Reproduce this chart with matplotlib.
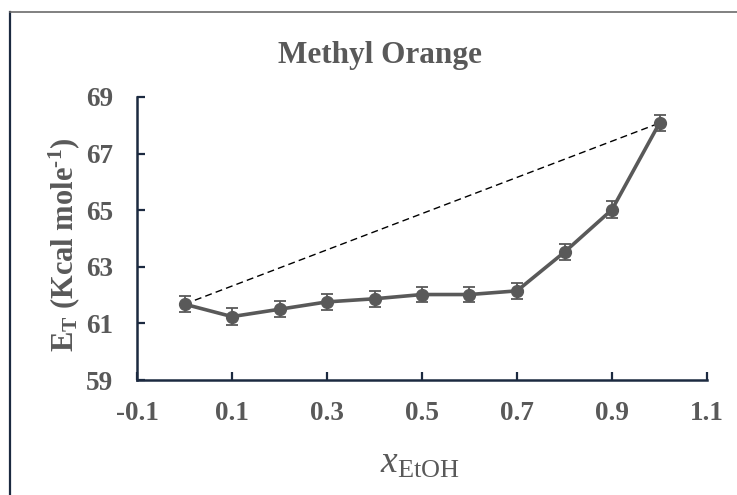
import matplotlib
matplotlib.use('Agg')
import matplotlib.pyplot as plt
from matplotlib.lines import Line2D
import numpy as np

# data
x_etoh = [0.0, 0.1, 0.2, 0.3, 0.4, 0.5, 0.6, 0.7, 0.8, 0.9, 1.0]
e_t = [61.68, 61.24, 61.50, 61.76, 61.87, 62.02, 62.02, 62.15, 63.52, 65.02, 68.08]
err = [0.28, 0.30, 0.28, 0.29, 0.28, 0.28, 0.28, 0.29, 0.29, 0.30, 0.28]
xticks = [-0.1, 0.1, 0.3, 0.5, 0.7, 0.9, 1.1]
yticks = [59, 61, 63, 65, 67, 69]

plt.rcParams['font.family'] = ['Liberation Serif', 'DejaVu Serif']
plt.rcParams['mathtext.fontset'] = 'custom'
plt.rcParams['mathtext.rm'] = 'Liberation Serif'
plt.rcParams['mathtext.it'] = 'Liberation Serif:italic'
plt.rcParams['mathtext.bf'] = 'Liberation Serif:bold'

grey = '#595959'
navy = '#1c2a40'

fig = plt.figure(figsize=(7.37, 4.95), dpi=100)
ax = fig.add_axes([137/737, 1 - 380/495, 570/737, 283/495])

# ideal-mixing dashed line between the pure-solvent ends
ax.plot([x_etoh[0], x_etoh[-1]], [e_t[0], e_t[-1]], color='black', lw=1.0,
        ls=(0, (5, 3)), zorder=2)
ax.errorbar(x_etoh, e_t, yerr=err, color=grey, lw=2.6, marker='o', ms=8.5,
            ecolor=grey, elinewidth=1.3, capsize=4.5, capthick=1.3, zorder=3)

ax.set_xlim(-0.1, 1.1)
ax.set_ylim(59, 69)
ax.set_xticks(xticks)
ax.set_yticks(yticks)
ax.set_xticklabels(['%.1f' % v for v in xticks])
ax.tick_params(direction='in', length=6, width=1.6, color=navy,
               labelsize=19.5, labelcolor=grey)
ax.tick_params(axis='y', pad=17)
ax.tick_params(axis='x', pad=15)
for lab in ax.get_xticklabels() + ax.get_yticklabels():
    lab.set_fontweight('bold')

for s in ['top', 'right']:
    ax.spines[s].set_visible(False)
for s in ['left', 'bottom']:
    ax.spines[s].set_color(navy)
    ax.spines[s].set_linewidth(1.8)

fig.text(380/737, 1 - 55/495, 'Methyl Orange', ha='center', va='center',
         fontsize=22.5, fontweight='bold', color=grey)
fig.text(64/737, 1 - 245/495, 'E$_{\\mathbf{T}}$ (Kcal mole$^{\\mathbf{\u2010 1}}$)',
         rotation=90, ha='center', va='center', fontsize=22,
         fontweight='bold', color=grey)
fig.text(420/737, 1 - 463/495, r'$\mathit{x}_{\mathrm{EtOH}}$', ha='center',
         va='center', fontsize=27, color=grey)

# frame lines at the left and top of the picture
fig.add_artist(Line2D([10/737, 10/737], [0, 1 - 12/495], color=navy, lw=1.6,
                      transform=fig.transFigure))
fig.add_artist(Line2D([10/737, 1], [1 - 12/495, 1 - 12/495], color='#6b6b6b',
                      lw=1.2, transform=fig.transFigure))

fig.savefig('out.png', dpi=100)
